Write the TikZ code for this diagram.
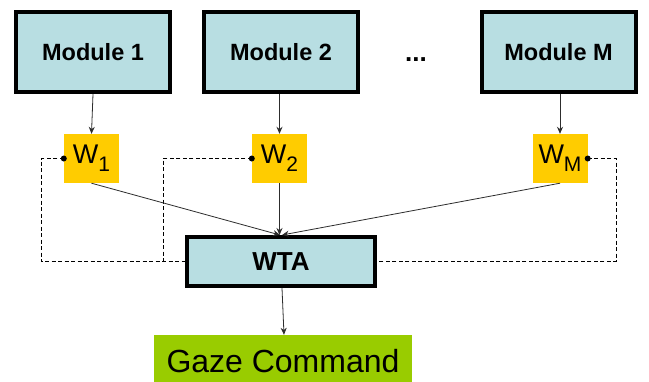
\documentclass[tikz,border=0pt]{standalone}
\usepackage{fontspec}
\setmainfont{Liberation Sans}
\usetikzlibrary{arrows.meta}
\definecolor{modblue}{RGB}{184,222,226}
\definecolor{wgold}{RGB}{255,204,0}
\definecolor{gzgreen}{RGB}{153,204,0}
\definecolor{lncol}{RGB}{45,45,45}
\newcommand\Wsub[1]{\fontsize{27}{30}\selectfont W\raisebox{-8pt}{\fontsize{21}{22}\selectfont #1}}
\begin{document}
\begin{tikzpicture}[x=1pt,y=-1pt,
  module/.style={draw=black,line width=4pt,fill=modblue,minimum width=154pt,minimum height=80pt,inner sep=0pt,font=\fontsize{23.5}{27}\selectfont\bfseries},
  wbox/.style={fill=wgold,minimum width=55pt,minimum height=49pt,inner sep=0pt},
  arr/.style={draw=lncol,line width=0.8pt,-{Stealth[length=7pt,width=6pt]}},
  fb/.style={draw=black,line width=0.7pt,dash pattern=on 4pt off 2.5pt},
  fbdot/.style={circle,fill=black,inner sep=0pt,minimum size=6pt}]
\clip (0,0) rectangle (649,381);
\fill[white] (0,0) rectangle (649,381);
% modules
\node[module] (m1) at (93,52) {Module 1};
\node[module] (m2) at (281,52) {Module 2};
\node[module] (mM) at (558.5,52) {Module M};
\node[font=\fontsize{26}{30}\selectfont\bfseries] (dots) at (416,60) {...};
% weights
\node[wbox] (w1) at (91.5,158.5) {\Wsub{1}};
\node[wbox] (w2) at (279.5,158.5) {\Wsub{2}};
\node[wbox] (wM) at (560,158.5) {\Wsub{M}};
% WTA
\node[draw=black,line width=4pt,fill=modblue,minimum width=188pt,minimum height=49pt,inner sep=0pt,font=\fontsize{26}{30}\selectfont\bfseries] (wta) at (281,261.5) {WTA};
% gaze
\node[fill=gzgreen,minimum width=258pt,minimum height=60pt,inner sep=0pt,font=\fontsize{32}{36}\selectfont] (gaze) at (283,365) {\raisebox{8pt}{Gaze Command}};
% corners of feedback lines
\coordinate (c1) at (41,261.5);
\coordinate (c2) at (163,261.5);
\coordinate (c3) at (616,261.5);
% feedback dashed lines
\draw[fb] (w1.west) -| (c1) -- (wta.west);
\draw[fb] (w2.west) -| (c2);
\draw[fb] (wM.east) -| (c3) -- (wta.east);
\node[fbdot] (d1) at (w1.west) {};
\node[fbdot] (d2) at (w2.west) {};
\node[fbdot] (dM) at (wM.east) {};
% arrows
\draw[arr] (m1.south) -- (w1.north);
\draw[arr] (m2.south -| w2.north) -- (w2.north);
\draw[arr] (mM.south -| wM.north) -- (wM.north);
\draw[arr] (w1.south) -- ([xshift=-1pt]wta.north);
\draw[arr] (w2.south) -- ([xshift=-1.5pt]wta.north);
\draw[arr] (wM.south) -- ([xshift=1pt]wta.north);
\draw[arr] ([xshift=1pt]wta.south) -- ([xshift=1pt]gaze.north);
\end{tikzpicture}
\end{document}
